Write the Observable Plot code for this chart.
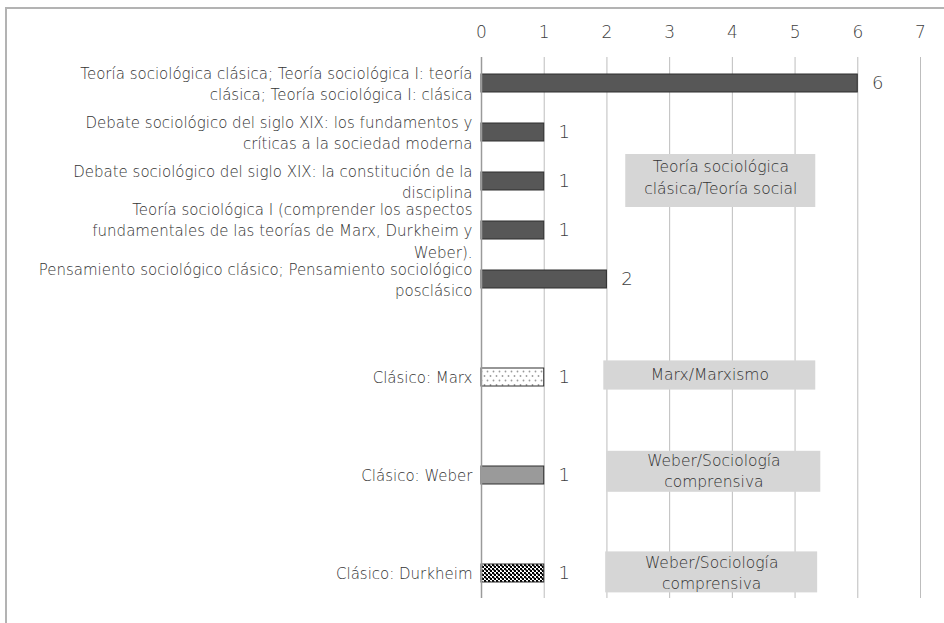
<!DOCTYPE html>
<html><head><meta charset="utf-8">
<script src="https://cdn.jsdelivr.net/npm/d3@7"></script>
<script src="https://cdn.jsdelivr.net/npm/@observablehq/plot@0.6"></script>
<style>
body{margin:0;background:#fff;overflow:hidden;}
#frame{position:absolute;left:5px;top:7px;width:960px;height:640px;border-left:2px solid #b3b3b3;border-top:2px solid #b3b3b3;}
#chart{position:absolute;left:0;top:0;}
</style></head><body><div id="frame"></div><div id="chart"></div>
<script>
const categories = [
  "Teoría sociológica clásica; Teoría sociológica I: teoría\nclásica; Teoría sociológica I: clásica",
  "Debate sociológico del siglo XIX: los fundamentos y\ncríticas a la sociedad moderna",
  "Debate sociológico del siglo XIX: la constitución de la\ndisciplina",
  "Teoría sociológica I (comprender los aspectos\nfundamentales de las teorías de Marx, Durkheim y\nWeber).",
  "Pensamiento sociológico clásico; Pensamiento sociológico\nposclásico",
  "Clásico: Marx",
  "Clásico: Weber",
  "Clásico: Durkheim"
];
const values = [6, 1, 1, 1, 2, 1, 1, 1];
const barStyles = ["solid", "solid", "solid", "solid", "solid", "dots", "grey", "checker"];
const spacers = ["gap1", "gap2", "gap3"];
const xTicks = [0, 1, 2, 3, 4, 5, 6, 7];
const boxLabels = ["Teoría sociológica\nclásica/Teoría social", "Marx/Marxismo", "Weber/Sociología\ncomprensiva", "Weber/Sociología\ncomprensiva"];
const boxRows = [categories[2], categories[5], categories[6], categories[7]];
const boxStart = [2.3, 1.95, 2.0, 1.98];
const boxEnd = [5.33, 5.33, 5.41, 5.36];

const yDomain = [categories[0], categories[1], categories[2], categories[3], categories[4],
  spacers[0], categories[5], spacers[1], categories[6], spacers[2], categories[7]];

const rows = categories.map((c, i) => ({cat: c, value: values[i], style: barStyles[i]}));
const boxes = boxLabels.map((t, i) => ({label: t, row: boxRows[i], x1: boxStart[i], x2: boxEnd[i]}));

// per-box visual insets (style only)
const boxInsets = [[-18, -17, -5.5], [-7.6, -3.6, -4], [-15.2, -7.8, -6], [-12.6, -10.4, -2]];

const font = "'DejaVu Sans', sans-serif";
const fillFor = {solid: "#575757", dots: "url(#dots)", grey: "#9a9a9a", checker: "url(#checker)"};

const marks = [
  Plot.gridX(xTicks, {stroke: "#bdbdbd", strokeOpacity: 1, strokeWidth: 1}),
  Plot.axisX(xTicks, {anchor: "top", tickSize: 0, tickPadding: 20, fontSize: 17, fontWeight: 200, fill: "#404040", label: null}),
];
boxes.forEach((b, i) => {
  marks.push(Plot.barX([b], {x1: "x1", x2: "x2", y: "row", fill: "#d6d6d6",
    insetTop: boxInsets[i][0], insetBottom: boxInsets[i][1]}));
  marks.push(Plot.text([b], {x: d => (d.x1 + d.x2) / 2, y: "row", text: "label", dy: boxInsets[i][2],
    fontSize: 15.5, lineHeight: 1.4, fill: "#333", fontWeight: 200}));
});
["solid", "dots", "grey", "checker"].forEach(s => {
  marks.push(Plot.barX(rows.filter(r => r.style === s), {x: "value", y: "cat", fill: fillFor[s], stroke: "#2e2e2e", strokeWidth: 1}));
});
marks.push(
  Plot.ruleX([0], {stroke: "#9a9a9a", strokeWidth: 1.5}),
  Plot.text(rows, {x: 0, y: "cat", text: "cat", textAnchor: "end", dx: -9, dy: -1, fontSize: 15, lineHeight: 1.42, fill: "#333", fontWeight: 200}),
  Plot.text(rows, {x: "value", y: "cat", text: d => String(d.value), dx: 20, dy: 0, fontSize: 18, fill: "#404040", fontWeight: 200})
);

const chart = Plot.plot({
  width: 944, height: 623,
  marginLeft: 481, marginRight: 24, marginTop: 57, marginBottom: 25,
  style: {fontFamily: font, background: "transparent"},
  x: {domain: [0, 7], axis: null},
  y: {domain: yDomain, axis: null, paddingInner: 0.634, paddingOuter: 0.317},
  marks
});

const svg = d3.select(chart);
const defs = svg.insert("defs", ":first-child");
const dots = defs.append("pattern").attr("id", "dots").attr("patternUnits", "userSpaceOnUse").attr("width", 6).attr("height", 9);
dots.append("rect").attr("width", 6).attr("height", 9).attr("fill", "#fff");
dots.append("circle").attr("cx", 1.5).attr("cy", 2.5).attr("r", 0.9).attr("fill", "#9a9a9a");
dots.append("circle").attr("cx", 4.5).attr("cy", 7).attr("r", 0.9).attr("fill", "#9a9a9a");
const chk = defs.append("pattern").attr("id", "checker").attr("patternUnits", "userSpaceOnUse").attr("width", 4).attr("height", 4);
chk.append("rect").attr("width", 4).attr("height", 4).attr("fill", "#fff");
chk.append("rect").attr("width", 2).attr("height", 2).attr("fill", "#000");
chk.append("rect").attr("x", 2).attr("y", 2).attr("width", 2).attr("height", 2).attr("fill", "#000");
chk.append("rect").attr("x", 1).attr("y", 1).attr("width", 2).attr("height", 2).attr("fill", "#000").attr("opacity", 0.5);

document.getElementById("chart").appendChild(chart);
</script></body></html>
